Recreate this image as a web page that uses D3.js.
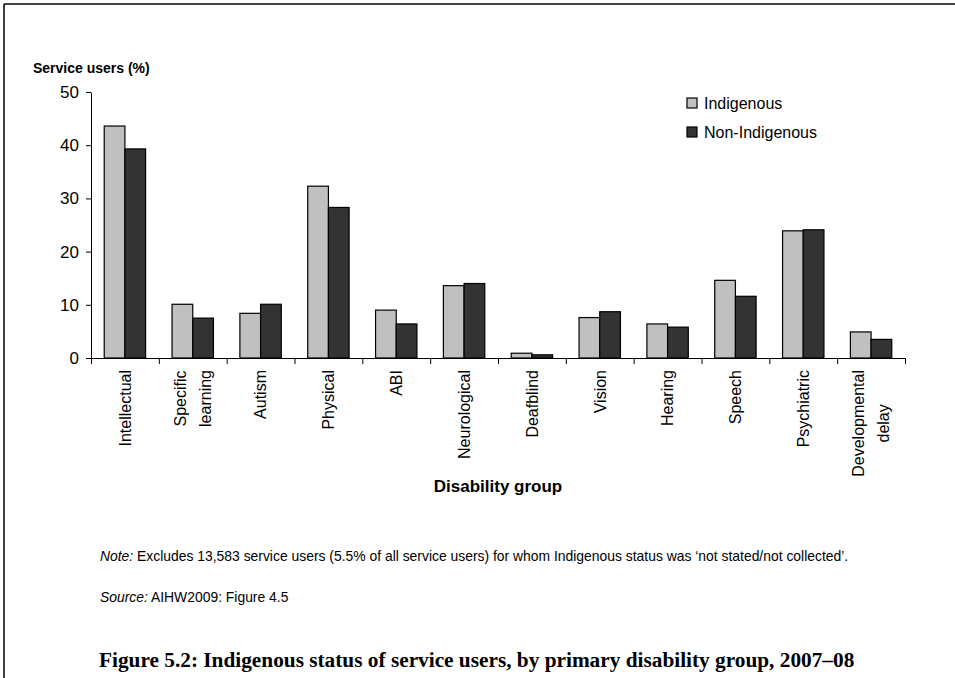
<!DOCTYPE html>
<html>
<head>
<meta charset="utf-8">
<script src="https://cdn.jsdelivr.net/npm/d3@7"></script>
<style>
  html, body { margin: 0; padding: 0; background: #fff; }
  svg { display: block; }
  text { font-family: "Liberation Sans", Arial, sans-serif; fill: #000; }
</style>
</head>
<body>
<svg id="chart" width="955" height="678"></svg>
<script>
// ---- Data ----
const categories = [
  ["Intellectual"], ["Specific", "learning"], ["Autism"], ["Physical"], ["ABI"],
  ["Neurological"], ["Deafblind"], ["Vision"], ["Hearing"], ["Speech"],
  ["Psychiatric"], ["Developmental", "delay"]
];
const seriesNames = ["Indigenous", "Non-Indigenous"];
const indigenous    = [43.6, 10.1, 8.4, 32.3, 9.0, 13.6, 0.9, 7.6, 6.4, 14.6, 23.9, 4.9];
const nonIndigenous = [39.3, 7.5, 10.1, 28.3, 6.4, 14.0, 0.6, 8.7, 5.8, 11.6, 24.1, 3.5];
const yTicks = [0, 10, 20, 30, 40, 50];
const seriesColors = ["#c0c0c0", "#333333"];

const yTitle = "Service users (%)";
const xTitle = "Disability group";
const noteLabel = "Note:";
const noteText = " Excludes 13,583 service users (5.5% of all service users) for whom Indigenous status was \u2018not stated/not collected\u2019.";
const sourceLabel = "Source:";
const sourceText = " AIHW2009: Figure 4.5";
const figTitle = "Figure 5.2: Indigenous status of service users, by primary disability group, 2007\u201308";

// ---- Layout ----
const svg = d3.select("#chart");
const plotL = 91, plotR = 905, plotT = 92, plotB = 358;

// frame
svg.append("line").attr("x1", 4).attr("x2", 955).attr("y1", 4).attr("y2", 4)
  .attr("stroke", "#000").attr("stroke-width", 1.5);
svg.append("line").attr("x1", 4).attr("x2", 4).attr("y1", 4).attr("y2", 678)
  .attr("stroke", "#000").attr("stroke-width", 1.5);

const idx = d3.range(categories.length);
const x0 = d3.scaleBand().domain(idx).range([plotL, plotR]).padding(0);
const groupW = x0.bandwidth() * 0.61;
const x1 = d3.scaleBand().domain(seriesNames).range([0, groupW]).padding(0);
const y = d3.scaleLinear().domain([0, 50]).range([plotB, plotT]);

// y axis
const yAxis = svg.append("g").attr("transform", `translate(${plotL},0)`)
  .call(d3.axisLeft(y).tickValues(yTicks).tickSize(5).tickSizeOuter(0).tickPadding(7));
yAxis.selectAll("path, line").attr("stroke", "#000").attr("stroke-width", 1);
yAxis.selectAll("text").style("font-size", "17px").style("font-family", "Liberation Sans, Arial, sans-serif");

// bars
const data = idx.map(i => ({ i, vals: [indigenous[i], nonIndigenous[i]] }));
const groups = svg.append("g").selectAll("g").data(data).join("g")
  .attr("transform", d => `translate(${x0(d.i) + (x0.bandwidth() - groupW) / 2},0)`);
groups.selectAll("rect").data(d => d.vals.map((v, k) => ({ k, v }))).join("rect")
  .attr("x", d => x1(seriesNames[d.k]))
  .attr("width", x1.bandwidth())
  .attr("y", d => y(d.v))
  .attr("height", d => y(0) - y(d.v))
  .attr("fill", d => seriesColors[d.k])
  .attr("stroke", "#000").attr("stroke-width", 1.2);

// x axis (ticks at category boundaries)
const xb = d3.scaleLinear().domain([0, categories.length]).range([plotL, plotR]);
const xAxis = svg.append("g").attr("transform", `translate(0,${plotB})`)
  .call(d3.axisBottom(xb).tickValues(d3.range(categories.length + 1)).tickSize(6).tickSizeOuter(0).tickFormat(""));
xAxis.selectAll("path, line").attr("stroke", "#000").attr("stroke-width", 1);

// category labels (centred multi-line blocks, rotated)
const lineGap = 25;
const labels = svg.append("g").selectAll("g").data(idx).join("g")
  .attr("transform", i => `translate(${x0(i) + x0.bandwidth() / 2},370) rotate(-90)`);
labels.each(function (i) {
  const g = d3.select(this);
  const lines = categories[i];
  const n = lines.length;
  const texts = lines.map((t, k) => g.append("text")
      .attr("text-anchor", "middle")
      .attr("y", (k - (n - 1) / 2) * lineGap)
      .attr("dy", "0.36em")
      .style("font-size", "16px")
      .text(t));
  const maxW = d3.max(texts, t => t.node().getComputedTextLength());
  texts.forEach(t => t.attr("x", -maxW / 2));
});

// axis titles
svg.append("text").attr("x", 33).attr("y", 73)
  .style("font-size", "14px").style("font-weight", "bold").text(yTitle);
svg.append("text").attr("x", 498).attr("y", 492).attr("text-anchor", "middle")
  .style("font-size", "17px").style("font-weight", "bold").text(xTitle);

// legend
const legend = svg.append("g").attr("transform", "translate(687,98)");
seriesNames.forEach((s, k) => {
  const g = legend.append("g").attr("transform", `translate(0,${k * 29})`);
  g.append("rect").attr("width", 10).attr("height", 10)
    .attr("fill", seriesColors[k]).attr("stroke", "#000").attr("stroke-width", 1.2);
  g.append("text").attr("x", 17).attr("y", 5).attr("dy", "0.36em")
    .style("font-size", "16px").text(s);
});

// note / source
const note = svg.append("text").attr("x", 100).attr("y", 561).style("font-size", "13.9px");
note.append("tspan").style("font-style", "italic").text(noteLabel);
note.append("tspan").text(noteText);
const src = svg.append("text").attr("x", 100).attr("y", 602).style("font-size", "13.9px");
src.append("tspan").style("font-style", "italic").text(sourceLabel);
src.append("tspan").text(sourceText);

// figure title
svg.append("text").attr("x", 99).attr("y", 667)
  .style("font-family", "Liberation Serif, Times New Roman, serif")
  .style("font-size", "21.3px").style("font-weight", "bold").text(figTitle);
</script>
</body>
</html>
